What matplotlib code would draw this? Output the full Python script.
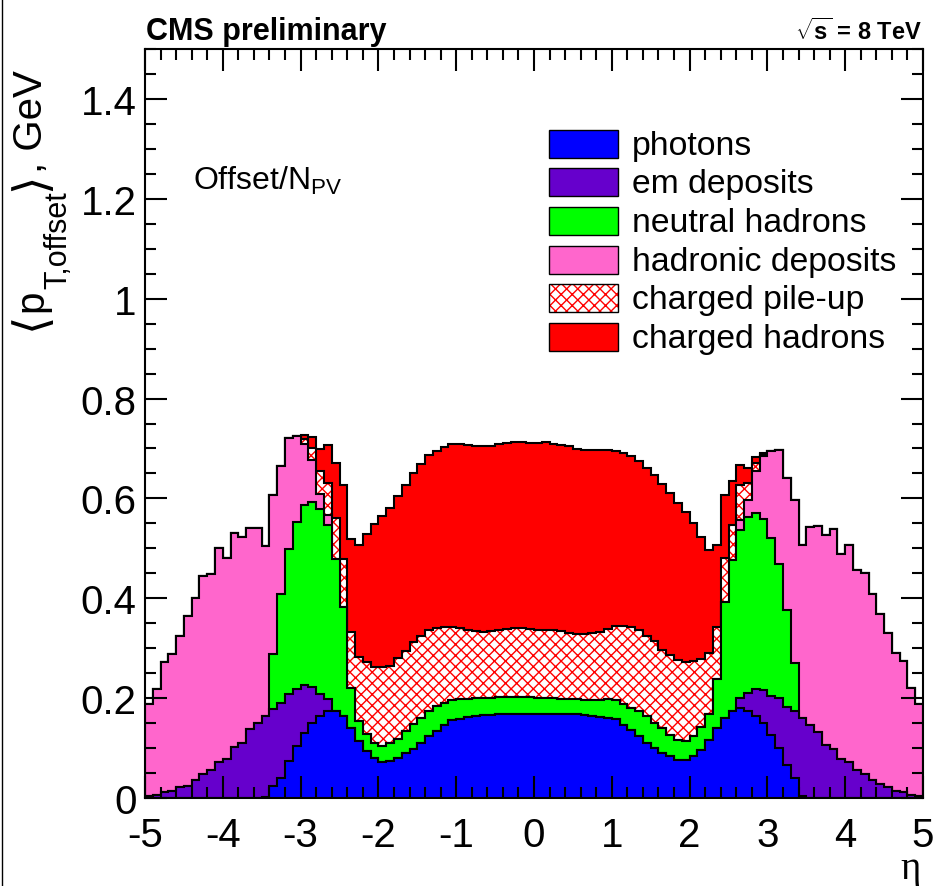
import numpy as np
import matplotlib
matplotlib.use("Agg")
import matplotlib.pyplot as plt
from matplotlib.patches import Rectangle
from matplotlib.lines import Line2D
from matplotlib.ticker import MultipleLocator, FuncFormatter

# 100 eta bins of width 0.1 from -5 to 5
edges = np.round(np.linspace(-5.0, 5.0, 101), 2)

photons = [
    0, 0, 0, 0, 0, 0, 0, 0, 0, 0,
    0, 0, 0, 0, 0.001, 0.003, 0.024, 0.041, 0.074, 0.104,
    0.131, 0.151, 0.165, 0.175, 0.175, 0.165, 0.141, 0.114, 0.094, 0.081,
    0.073, 0.074, 0.080, 0.091, 0.099, 0.111, 0.124, 0.134, 0.146, 0.156,
    0.159, 0.162, 0.164, 0.166, 0.167, 0.168, 0.169, 0.169, 0.169, 0.169,
    0.168, 0.168, 0.168, 0.169, 0.169, 0.168, 0.166, 0.164, 0.162, 0.160,
    0.158, 0.147, 0.137, 0.124, 0.111, 0.101, 0.091, 0.084, 0.077, 0.077,
    0.084, 0.097, 0.117, 0.141, 0.161, 0.174, 0.180, 0.174, 0.164, 0.151,
    0.127, 0.101, 0.067, 0.040, 0.004, 0.001, 0, 0, 0, 0,
    0, 0, 0, 0, 0, 0, 0, 0, 0, 0,
]
em_deposits = [
    0.004, 0.006, 0.012, 0.014, 0.022, 0.025, 0.037, 0.049, 0.057, 0.072,
    0.079, 0.102, 0.110, 0.138, 0.150, 0.161, 0.154, 0.150, 0.134, 0.114,
    0.095, 0.071, 0.043, 0.023, 0, 0, 0, 0, 0, 0,
    0, 0, 0, 0, 0, 0, 0, 0, 0, 0,
    0, 0, 0, 0, 0, 0, 0, 0, 0, 0,
    0, 0, 0, 0, 0, 0, 0, 0, 0, 0,
    0, 0, 0, 0, 0, 0, 0, 0, 0, 0,
    0, 0, 0, 0, 0, 0, 0.021, 0.037, 0.054, 0.065,
    0.077, 0.100, 0.115, 0.134, 0.157, 0.145, 0.133, 0.106, 0.098, 0.079,
    0.073, 0.057, 0.048, 0.037, 0.028, 0.022, 0.015, 0.012, 0.007, 0.004,
]
neutral_hadrons = [
    0, 0, 0, 0, 0, 0, 0, 0, 0, 0,
    0, 0, 0, 0, 0, 0, 0.111, 0.217, 0.291, 0.335,
    0.360, 0.371, 0.370, 0.348, 0.304, 0.217, 0.080, 0.040, 0.034, 0.030,
    0.031, 0.036, 0.038, 0.044, 0.050, 0.050, 0.050, 0.050, 0.045, 0.040,
    0.039, 0.037, 0.036, 0.035, 0.034, 0.035, 0.034, 0.034, 0.034, 0.034,
    0.033, 0.033, 0.032, 0.030, 0.030, 0.030, 0.030, 0.032, 0.035, 0.038,
    0.038, 0.041, 0.044, 0.050, 0.053, 0.050, 0.050, 0.043, 0.040, 0.038,
    0.040, 0.045, 0.051, 0.097, 0.231, 0.302, 0.335, 0.352, 0.352, 0.342,
    0.317, 0.267, 0.195, 0.096, 0, 0, 0, 0, 0, 0,
    0, 0, 0, 0, 0, 0, 0, 0, 0, 0,
]
hadronic_deposits = [
    0.184, 0.212, 0.260, 0.274, 0.303, 0.339, 0.363, 0.395, 0.392, 0.428,
    0.402, 0.428, 0.412, 0.402, 0.389, 0.341, 0.318, 0.257, 0.222, 0.171,
    0.123, 0.084, 0.030, 0.021, 0, 0, 0, 0, 0, 0,
    0, 0, 0, 0, 0, 0, 0, 0, 0, 0,
    0, 0, 0, 0, 0, 0, 0, 0, 0, 0,
    0, 0, 0, 0, 0, 0, 0, 0, 0, 0,
    0, 0, 0, 0, 0, 0, 0, 0, 0, 0,
    0, 0, 0, 0, 0, 0, 0.020, 0.034, 0.084, 0.127,
    0.173, 0.228, 0.263, 0.327, 0.345, 0.397, 0.411, 0.420, 0.440, 0.410,
    0.433, 0.399, 0.402, 0.372, 0.341, 0.308, 0.275, 0.262, 0.214, 0.185,
]
charged_pileup = [
    0, 0, 0, 0, 0, 0, 0, 0, 0, 0,
    0, 0, 0, 0, 0, 0, 0, 0, 0, 0,
    0.010, 0.023, 0.046, 0.063, 0.081, 0.097, 0.111, 0.128, 0.144, 0.151,
    0.158, 0.155, 0.163, 0.160, 0.163, 0.164, 0.162, 0.157, 0.152, 0.147,
    0.143, 0.138, 0.134, 0.132, 0.133, 0.133, 0.135, 0.137, 0.138, 0.136,
    0.136, 0.136, 0.136, 0.135, 0.132, 0.131, 0.133, 0.135, 0.135, 0.141,
    0.148, 0.156, 0.161, 0.162, 0.161, 0.164, 0.155, 0.160, 0.159, 0.158,
    0.150, 0.136, 0.123, 0.104, 0.089, 0.071, 0.071, 0.033, 0.016, 0.003,
    0, 0, 0, 0, 0, 0, 0, 0, 0, 0,
    0, 0, 0, 0, 0, 0, 0, 0, 0, 0,
]
charged_hadrons = [
    0, 0, 0, 0, 0, 0, 0, 0, 0, 0,
    0, 0, 0, 0, 0, 0, 0, 0, 0, 0,
    0.007, 0.022, 0.044, 0.076, 0.110, 0.148, 0.187, 0.225, 0.257, 0.286,
    0.302, 0.315, 0.323, 0.332, 0.338, 0.344, 0.350, 0.353, 0.359, 0.366,
    0.368, 0.370, 0.371, 0.371, 0.371, 0.373, 0.372, 0.372, 0.371, 0.371,
    0.373, 0.375, 0.373, 0.373, 0.373, 0.370, 0.368, 0.365, 0.364, 0.358,
    0.350, 0.346, 0.343, 0.338, 0.335, 0.332, 0.332, 0.323, 0.314, 0.300,
    0.276, 0.245, 0.206, 0.164, 0.125, 0.088, 0.040, 0.030, 0.012, 0.002,
    0, 0, 0, 0, 0, 0, 0, 0, 0, 0,
    0, 0, 0, 0, 0, 0, 0, 0, 0, 0,
]

labels = ["photons", "em deposits", "neutral hadrons",
          "hadronic deposits", "charged pile-up", "charged hadrons"]
colors = ["#0000ff", "#6600cc", "#00ff00", "#ff66cc", "white", "#ff0000"]
series = [photons, em_deposits, neutral_hadrons,
          hadronic_deposits, charged_pileup, charged_hadrons]

plt.rcParams['font.family'] = ['Liberation Sans', 'DejaVu Sans']
plt.rcParams['axes.unicode_minus'] = False
plt.rcParams['mathtext.fontset'] = 'custom'
plt.rcParams['mathtext.rm'] = 'Liberation Sans'
plt.rcParams['mathtext.it'] = 'Liberation Sans'
plt.rcParams['mathtext.bf'] = 'Liberation Sans:bold'
plt.rcParams['hatch.linewidth'] = 1.0

W, H = 936, 887
fig = plt.figure(figsize=(W / 100, H / 100), dpi=100)
ax = fig.add_axes([145 / W, 1 - 799 / H, 778 / W, 749 / H])

# stacked histogram, drawn from the total down (like THStack)
stack = np.cumsum(np.array(series, dtype=float), axis=0)
for k in range(len(series) - 1, -1, -1):
    top = stack[k]
    if labels[k] == "charged pile-up":
        ax.stairs(top, edges, baseline=0, fill=True, facecolor="white",
                  edgecolor="red", hatch="xxx", linewidth=0)
    else:
        ax.stairs(top, edges, baseline=0, fill=True, color=colors[k], linewidth=0)
    ax.stairs(top, edges, baseline=0, color="black", linewidth=1.5)

ax.set_xlim(-5, 5)
ax.set_ylim(0, 1.5)
ax.xaxis.set_major_locator(MultipleLocator(1))
ax.xaxis.set_minor_locator(MultipleLocator(0.2))
ax.yaxis.set_major_locator(MultipleLocator(0.2))
ax.yaxis.set_minor_locator(MultipleLocator(0.05))
ax.yaxis.set_major_formatter(FuncFormatter(lambda v, p: "%g" % round(v, 2)))
ax.tick_params(which="both", direction="in", top=True, right=True, width=1.5,
               labelsize=29)
ax.tick_params(which="major", length=16)
ax.tick_params(which="minor", length=8)
ax.tick_params(axis="x", pad=13)
ax.tick_params(axis="y", pad=6)
for s in ax.spines.values():
    s.set_linewidth(1.5)

# legend drawn by hand, ROOT style
for k in range(len(labels)):
    cy = 144.5 + 38.7 * k
    box = (549 / W, 1 - (cy + 14) / H)
    if labels[k] == "charged pile-up":
        fig.add_artist(Rectangle(box, 69 / W, 28 / H, transform=fig.transFigure,
                                 facecolor="white", edgecolor="red",
                                 linewidth=0, hatch="xxx"))
        fig.add_artist(Rectangle(box, 69 / W, 28 / H, transform=fig.transFigure,
                                 fill=False, edgecolor="black", linewidth=1.0))
    else:
        fig.add_artist(Rectangle(box, 69 / W, 28 / H, transform=fig.transFigure,
                                 facecolor=colors[k], edgecolor="black",
                                 linewidth=1.0))
    fig.text(632 / W, 1 - (cy + 10) / H, labels[k], fontsize=24.3,
             ha="left", va="baseline")

fig.text(146 / W, 1 - 40 / H, "CMS preliminary", fontsize=22,
         fontweight="bold", ha="left", va="baseline")
fig.text(922 / W, 1 - 40 / H, r"$\sqrt{\mathbf{s}}$ = 8 TeV", fontsize=17,
         fontweight="bold", ha="right", va="baseline")
fig.text(193 / W, 1 - 190 / H, r"Offset/N$_{\mathrm{PV}}$", fontsize=23,
         ha="left", va="baseline")
fig.text(921 / W, 1 - 879 / H, "η", fontsize=28, family="Liberation Serif",
         ha="right", va="baseline")

# y title built from pieces, reading upwards from the bottom
renderer = fig.canvas.get_renderer()
pieces = [("⟨", 34, 44, ["DejaVu Sans"]),
          ("p", 29, 42, None),
          ("T,offset", 22, 66, None),
          ("⟩", 34, 44, ["DejaVu Sans"]),
          (", GeV", 29, 42, None)]
ystart = 330
for txt, size, xb, fam in pieces:
    kw = {"family": fam} if fam else {}
    t = fig.text(xb / W, 1 - ystart / H, txt, fontsize=size, rotation=90,
                 rotation_mode="anchor", ha="left", va="baseline", **kw)
    bb = t.get_window_extent(renderer)
    ystart -= bb.height

fig.add_artist(Line2D([1.5 / W, 1.5 / W], [0, 1], transform=fig.transFigure,
                      color="black", linewidth=1.0))

fig.savefig("out.png", dpi=100)
